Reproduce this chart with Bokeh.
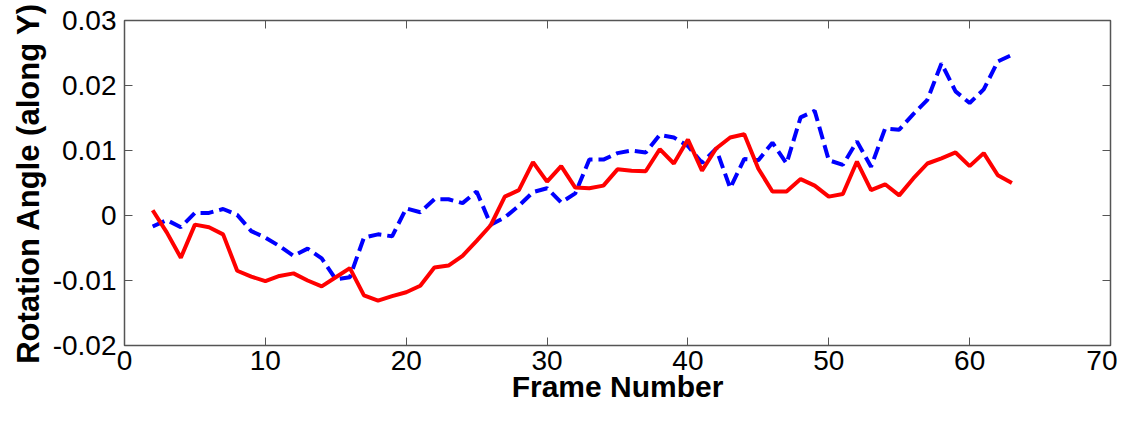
from bokeh.plotting import figure
from bokeh.models import LinearAxis, FixedTicker, Range1d, CustomJSTickFormatter
from bokeh.embed import file_html
from bokeh.resources import INLINE

frames = list(range(2, 64))
red_series = [0.0008, -0.0026, -0.0065, -0.0014, -0.0018, -0.0029, -0.0085, -0.0094, -0.0101, -0.0093,
              -0.0089, -0.0100, -0.0109, -0.0095, -0.0081, -0.0123, -0.0131, -0.0124, -0.0118, -0.0108,
              -0.0080, -0.0077, -0.0062, -0.0039, -0.0015, 0.0029, 0.0039, 0.0082, 0.0052, 0.0076,
              0.0043, 0.0042, 0.0046, 0.0071, 0.0069, 0.0068, 0.0102, 0.0080, 0.0117, 0.0069,
              0.0103, 0.0120, 0.0125, 0.0072, 0.0037, 0.0037, 0.0056, 0.0046, 0.0029, 0.0033,
              0.0083, 0.0039, 0.0048, 0.0031, 0.0057, 0.0080, 0.0088, 0.0097, 0.0076, 0.0096,
              0.0062, 0.0050]
blue_series = [-0.0017, -0.0007, -0.0018, 0.0004, 0.0004, 0.0010, 0.0001, -0.0024, -0.0034, -0.0047,
               -0.0062, -0.0051, -0.0066, -0.0098, -0.0095, -0.0034, -0.0029, -0.0032, 0.0011, 0.0005,
               0.0025, 0.0025, 0.0019, 0.0037, -0.0014, -0.0003, 0.0015, 0.0036, 0.0042, 0.0020,
               0.0034, 0.0086, 0.0086, 0.0096, 0.0100, 0.0097, 0.0124, 0.0120, 0.0107, 0.0081,
               0.0103, 0.0042, 0.0087, 0.0085, 0.0112, 0.0080, 0.0151, 0.0161, 0.0085, 0.0078,
               0.0114, 0.0075, 0.0134, 0.0132, 0.0156, 0.0178, 0.0234, 0.0191, 0.0173, 0.0194,
               0.0237, 0.0247]
x_ticks = [0, 10, 20, 30, 40, 50, 60, 70]
y_ticks = [-0.02, -0.01, 0.0, 0.01, 0.02, 0.03]
y_tick_labels = ["-0.02", "-0.01", "0", "0.01", "0.02", "0.03"]
x_title = "Frame Number"
y_title = "Rotation Angle (along Y)"

p = figure(width=1117, height=405, output_backend="svg", toolbar_location=None,
           x_range=Range1d(0, 70), y_range=Range1d(-0.02, 0.03),
           min_border_left=124, min_border_right=7, min_border_top=20, min_border_bottom=10)
p.grid.visible = False
p.outline_line_color = "#555555"
p.outline_line_width = 1.5

p.line(frames, blue_series, line_color="#0000FF", line_width=4, line_dash="13 6")
p.line(frames, red_series, line_color="#FF0000", line_width=4)

font = "Liberation Sans"
for ax in (p.xaxis[0], p.yaxis[0]):
    ax.major_tick_in = 8
    ax.major_tick_out = 0
    ax.minor_tick_line_color = None
    ax.axis_line_color = "#555555"
    ax.major_tick_line_color = "#555555"
    ax.major_label_text_font = font
    ax.major_label_text_font_size = "28px"
    ax.major_label_text_color = "black"
    ax.axis_label_text_font = font
    ax.axis_label_text_font_style = "bold"
    ax.axis_label_text_color = "black"

p.xaxis[0].axis_label_text_font_size = "30px"
p.yaxis[0].axis_label_text_font_size = "31px"
p.xaxis[0].ticker = FixedTicker(ticks=x_ticks)
p.yaxis[0].ticker = FixedTicker(ticks=y_ticks)
p.yaxis[0].major_label_overrides = {t: l for t, l in zip(y_ticks, y_tick_labels)}
p.xaxis[0].axis_label = x_title
p.yaxis[0].axis_label = y_title
p.xaxis[0].major_label_standoff = 5
p.yaxis[0].major_label_standoff = 8
p.xaxis[0].axis_label_standoff = -3
p.yaxis[0].axis_label_standoff = 4

blank = CustomJSTickFormatter(code="return '';")
top = LinearAxis(ticker=FixedTicker(ticks=x_ticks), formatter=blank,
                 major_tick_in=8, major_tick_out=0, minor_tick_line_color=None,
                 axis_line_color="#555555", major_tick_line_color="#555555",
                 major_label_standoff=0)
right = LinearAxis(ticker=FixedTicker(ticks=y_ticks), formatter=blank,
                   major_tick_in=8, major_tick_out=0, minor_tick_line_color=None,
                   axis_line_color="#555555", major_tick_line_color="#555555",
                   major_label_standoff=0)
p.add_layout(top, "above")
p.add_layout(right, "right")

open("out.html", "w").write(file_html(p, INLINE))
